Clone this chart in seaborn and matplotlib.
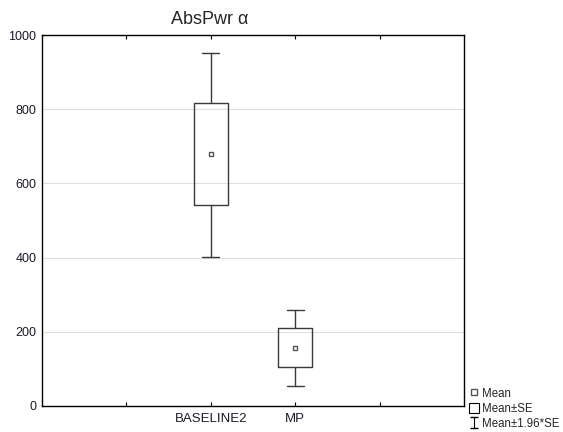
import matplotlib
matplotlib.use("Agg")
import matplotlib.pyplot as plt
import seaborn as sns
import pandas as pd
import numpy as np
from matplotlib.patches import Rectangle
from matplotlib.lines import Line2D

categories = ["BASELINE2", "MP"]
means = [679, 156]
se_low = [542, 105]
se_high = [817, 210]
ci_low = [402, 54]
ci_high = [951, 259]
positions = [2, 3]
tick_positions = [1, 2, 3, 4]
tick_labels = ["", "BASELINE2", "MP", ""]
title = "AbsPwr \u03b1"

sns.set_style("white")
plt.rcParams['font.family'] = ['Arial', 'Liberation Sans', 'DejaVu Sans']

fig = plt.figure(figsize=(5.63, 4.32), dpi=100)
ax = fig.add_axes([42/563, 1 - 406/432, (464-42)/563, (406-35)/432])

stats = []
for c, m, l, h, wl, wh in zip(categories, means, se_low, se_high, ci_low, ci_high):
    stats.append(dict(label=c, med=m, q1=l, q3=h, whislo=wl, whishi=wh, mean=m, fliers=[]))

lc = "#3a3a3a"
ax.bxp(stats, positions=positions, widths=0.4, showmeans=False, showfliers=False,
       boxprops=dict(color=lc, linewidth=1.0),
       whiskerprops=dict(color=lc, linewidth=1.0),
       capprops=dict(color=lc, linewidth=1.0),
       medianprops=dict(linewidth=0),
       capwidths=0.2, zorder=3)

df = pd.DataFrame({"pos": positions, "mean": means})
sns.scatterplot(data=df, x="pos", y="mean", marker="s", s=12, facecolor="white",
                edgecolor="#555555", linewidth=1.0, ax=ax, zorder=4, legend=False)

ax.set_xlim(0, 5)
ax.set_ylim(0, 1000)
ax.set_xticks(tick_positions)
ax.set_xticklabels(tick_labels, fontsize=9.5, color="#1a1a2a")
ax.set_yticks([0, 200, 400, 600, 800, 1000])
ax.set_yticklabels(["0", "200", "400", "600", "800", "1000"], fontsize=9, color="#1a1a2a")
ax.set_xlabel("")
ax.set_ylabel("")
ax.grid(axis="y", color="#e0e0e0", linewidth=0.8, zorder=0)
ax.set_axisbelow(True)
ax.tick_params(axis="x", direction="in", length=3, top=True, bottom=True, color="black", pad=5)
ax.tick_params(axis="y", length=0, pad=4)
for sp in ax.spines.values():
    sp.set_visible(True)
    sp.set_color("black")
    sp.set_linewidth(1.0)

fig.text(210/563, 1 - 19/432, title, fontsize=13, ha="center", va="center")

# legend
h_mean = Line2D([], [], marker="s", linestyle="none", markersize=4, markerfacecolor="white",
                markeredgecolor="#555555", markeredgewidth=1.0)
h_se = Rectangle((0, 0), 1, 1, facecolor="white", edgecolor="black", linewidth=0.8)
eb = ax.errorbar([np.nan], [np.nan], yerr=[1], fmt="none", ecolor="black", capsize=3, elinewidth=0.8)
fig.legend([h_mean, h_se, eb], ["Mean", "Mean\u00b1SE", "Mean\u00b11.96*SE"],
           loc="lower left", bbox_to_anchor=(461/563, -6/432), frameon=False,
           fontsize=8.3, handlelength=0.9, handleheight=1.0, handletextpad=0.25,
           labelspacing=0.25, borderpad=0.2)

fig.savefig("out.png", dpi=100, facecolor="white")
